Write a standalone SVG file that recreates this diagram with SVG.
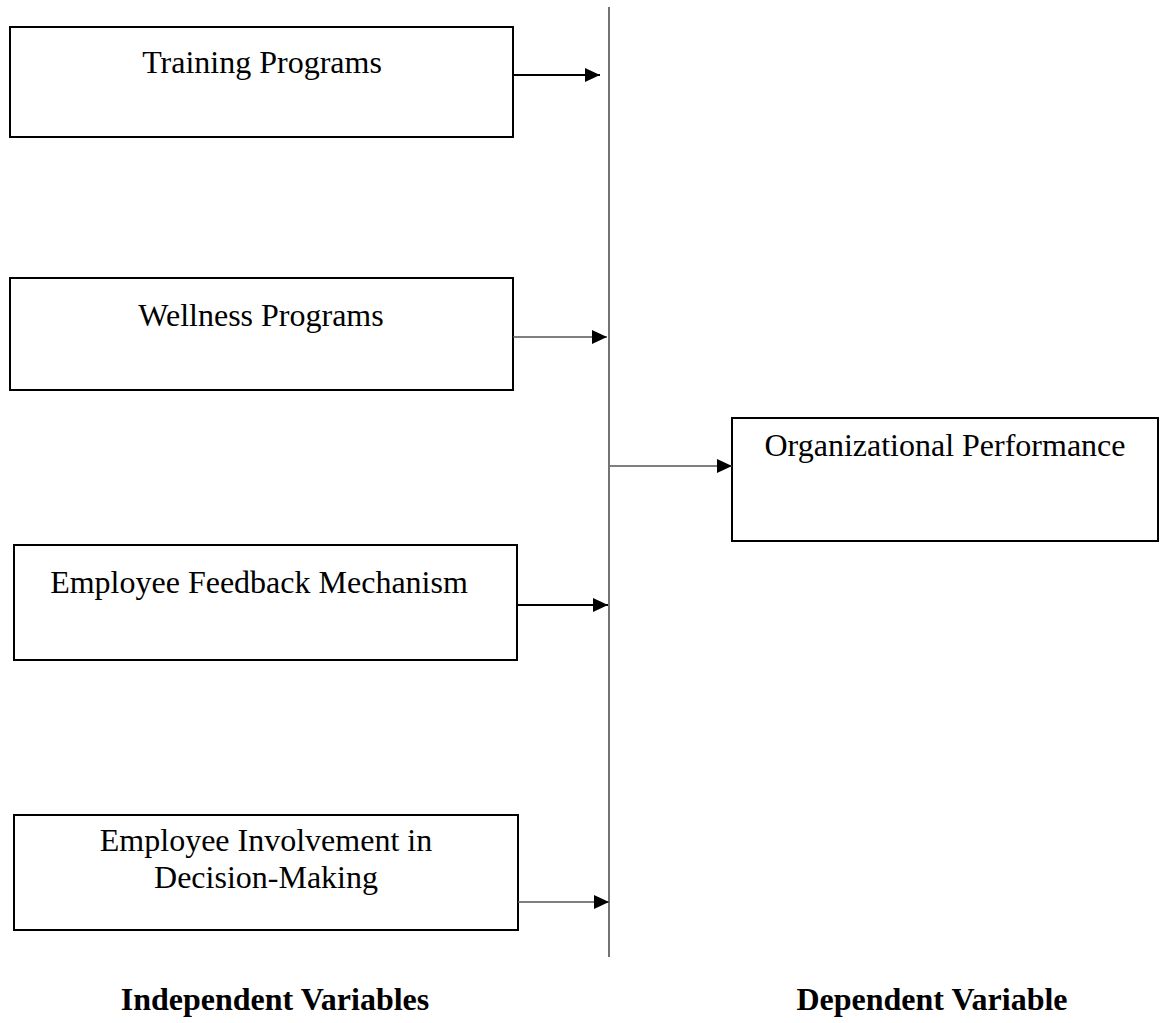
<svg xmlns="http://www.w3.org/2000/svg" width="1160" height="1023" viewBox="0 0 1160 1023">
  <style>
    .box { fill: #ffffff; stroke: #000000; stroke-width: 2; }
    .lbl { font-family: "Liberation Serif", "Times New Roman", serif; font-size: 32px; fill: #000000; text-anchor: middle; }
    .cap { font-family: "Liberation Serif", "Times New Roman", serif; font-size: 32px; font-weight: bold; fill: #000000; text-anchor: middle; }
    .thick { stroke: #000000; stroke-width: 2; fill: none; }
    .thin { stroke: #555555; stroke-width: 1.3; fill: none; }
    .spine { stroke: #444444; stroke-width: 1.5; fill: none; }
  </style>
  <defs>
    <marker id="head" markerUnits="userSpaceOnUse" markerWidth="16" markerHeight="16" refX="15" refY="7" orient="auto">
      <path d="M0,0 L15,7 L0,14 Z" fill="#000000"/>
    </marker>
  </defs>

  <rect width="1160" height="1023" fill="#ffffff"/>

  <!-- independent variable boxes -->
  <g id="training">
    <rect class="box" x="10" y="27" width="503" height="110"/>
    <text class="lbl" x="262" y="73">Training Programs</text>
  </g>
  <g id="wellness">
    <rect class="box" x="10" y="278" width="503" height="112"/>
    <text class="lbl" x="261" y="326">Wellness Programs</text>
  </g>
  <g id="feedback">
    <rect class="box" x="14" y="545" width="503" height="115"/>
    <text class="lbl" x="259" y="593">Employee Feedback Mechanism</text>
  </g>
  <g id="involvement">
    <rect class="box" x="14" y="815" width="504" height="115"/>
    <text class="lbl" x="266" y="851">Employee Involvement in</text>
    <text class="lbl" x="266" y="888">Decision-Making</text>
  </g>

  <!-- dependent variable box -->
  <g id="performance">
    <rect class="box" x="732" y="418" width="426" height="123"/>
    <text class="lbl" x="945" y="456">Organizational Performance</text>
  </g>

  <!-- connectors -->
  <g id="connectors">
    <line class="spine" x1="609" y1="7" x2="609" y2="957"/>
    <line class="thick" x1="513" y1="75" x2="600" y2="75" marker-end="url(#head)"/>
    <line class="thin" x1="513" y1="337" x2="607" y2="337" marker-end="url(#head)"/>
    <line class="thick" x1="517" y1="605" x2="608" y2="605" marker-end="url(#head)"/>
    <line class="thin" x1="518" y1="902" x2="609" y2="902" marker-end="url(#head)"/>
    <line class="thin" x1="610" y1="466" x2="732" y2="466" marker-end="url(#head)"/>
  </g>

  <!-- column captions -->
  <text class="cap" x="275" y="1010">Independent Variables</text>
  <text class="cap" x="932" y="1010">Dependent Variable</text>
</svg>
